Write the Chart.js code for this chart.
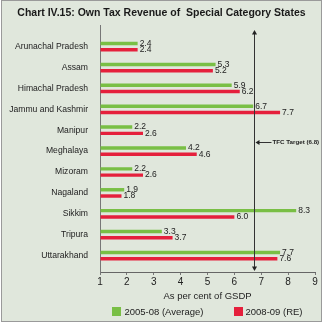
<!DOCTYPE html>
<html>
<head>
<meta charset="utf-8">
<script src="https://cdn.jsdelivr.net/npm/chart.js@4.4.1/dist/chart.umd.min.js"></script>
<style>
body { margin: 0; background: #fff; }
#wrap { position: relative; width: 325px; height: 325px; }
#legend { position: absolute; left: 100px; top: 305px; width: 215px; height: 12px; display: flex; justify-content: center; align-items: center; gap: 30px; font: 9.5px "Liberation Sans", Arial, sans-serif; color: #222; }
#legend .item { display: flex; align-items: center; }
#legend i { display: inline-block; width: 9px; height: 9px; margin-right: 3px; }
</style>
</head>
<body>
<div id="wrap">
<canvas id="taxChart" width="325" height="325"></canvas>
<div id="legend"></div>
</div>
<script>
// Own tax revenue, per cent of GSDP
var states = ["Arunachal Pradesh", "Assam", "Himachal Pradesh", "Jammu and Kashmir", "Manipur",
    "Meghalaya", "Mizoram", "Nagaland", "Sikkim", "Tripura", "Uttarakhand"];
var avg0508 = [2.4, 5.3, 5.9, 6.7, 2.2, 4.2, 2.2, 1.9, 8.3, 3.3, 7.7];
var re0809 = [2.4, 5.2, 6.2, 7.7, 2.6, 4.6, 2.6, 1.8, 6.0, 3.7, 7.6];
var xTicks = [1, 2, 3, 4, 5, 6, 7, 8, 9];
var tfcTarget = 6.72;   // where the line sits in the picture
var tfcText = "TFC Target (6.8)";

var FONT = "'Liberation Sans', Arial, sans-serif";
var green = '#79bf45';
var red = '#e5203c';

function toPoints(vals) {
    return vals.map(function (v, i) { return { x: v, y: i }; });
}

// frame + background
var framePlugin = {
    id: 'frame',
    beforeDraw: function (chart) {
        var ctx = chart.ctx;
        ctx.save();
        ctx.fillStyle = '#fff';
        ctx.fillRect(0, 0, chart.width, chart.height);
        ctx.fillStyle = '#e0e7dc';
        ctx.fillRect(1.5, 0.5, 320, 321);
        ctx.strokeStyle = '#9a9a9a';
        ctx.lineWidth = 1;
        ctx.strokeRect(1.5, 0.5, 320, 321);
        ctx.restore();
    }
};

// value labels + TFC target line
var extrasPlugin = {
    id: 'extras',
    afterDatasetsDraw: function (chart) {
        var ctx = chart.ctx;
        var xs = chart.scales.x, ys = chart.scales.y;
        var area = chart.chartArea;
        ctx.save();
        ctx.font = '8.5px ' + FONT;
        ctx.fillStyle = '#222';
        ctx.textBaseline = 'middle';
        chart.data.datasets.forEach(function (ds, d) {
            chart.getDatasetMeta(d).data.forEach(function (bar, i) {
                ctx.fillText(ds.data[i].x.toFixed(1), bar.x + 2, bar.y);
            });
        });

        var x = Math.round(xs.getPixelForValue(tfcTarget)) + 0.5;
        var top = area.top + 5, bottom = area.bottom - 1;
        ctx.strokeStyle = '#333';
        ctx.fillStyle = '#222';
        ctx.lineWidth = 1;
        ctx.beginPath();
        ctx.moveTo(x, top + 3);
        ctx.lineTo(x, bottom - 3);
        ctx.stroke();
        ctx.beginPath();
        ctx.moveTo(x, top); ctx.lineTo(x - 2.5, top + 4.5); ctx.lineTo(x + 2.5, top + 4.5);
        ctx.closePath(); ctx.fill();
        ctx.beginPath();
        ctx.moveTo(x, bottom); ctx.lineTo(x - 2.5, bottom - 4.5); ctx.lineTo(x + 2.5, bottom - 4.5);
        ctx.closePath(); ctx.fill();

        var ly = Math.round(ys.getPixelForValue(4.55)) + 0.5;
        ctx.beginPath();
        ctx.moveTo(x + 4, ly); ctx.lineTo(x + 17, ly);
        ctx.stroke();
        ctx.beginPath();
        ctx.moveTo(x + 1, ly); ctx.lineTo(x + 5, ly - 2.5); ctx.lineTo(x + 5, ly + 2.5);
        ctx.closePath(); ctx.fill();
        ctx.font = 'bold 6.2px ' + FONT;
        ctx.fillText(tfcText, x + 18, ly);
        ctx.restore();
    }
};

var ctx = document.getElementById('taxChart').getContext('2d');
var chart = new Chart(ctx, {
    type: 'bar',
    data: {
        datasets: [{
            label: "2005-08 (Average)",
            data: toPoints(avg0508),
            backgroundColor: green,
            base: 1
        }, {
            label: "2008-09 (RE)",
            data: toPoints(re0809),
            backgroundColor: red,
            base: 1
        }]
    },
    options: {
        indexAxis: 'y',
        responsive: false,
        animation: false,
        events: [],
        categoryPercentage: 0.6,
        barPercentage: 0.55,
        layout: { padding: { left: 8, right: 10, top: 0, bottom: 20.6 } },
        plugins: {
            legend: { display: false },
            tooltip: { enabled: false },
            title: {
                display: true,
                text: "Chart IV.15: Own Tax Revenue of  Special Category States",
                color: '#1a1a1a',
                font: { family: FONT, size: 10.5, weight: 'bold' },
                padding: { top: 7, bottom: 5.4 }
            }
        },
        scales: {
            x: {
                type: 'linear',
                min: 1,
                max: 9,
                afterBuildTicks: function (axis) {
                    axis.ticks = xTicks.map(function (v) { return { value: v }; });
                },
                grid: { display: true, drawOnChartArea: false, drawTicks: true, tickLength: 3, color: '#777' },
                border: { display: true, color: '#666', width: 1 },
                ticks: { color: '#222', padding: 1, font: { family: FONT, size: 10 } },
                title: {
                    display: true,
                    text: "As per cent of GSDP",
                    color: '#222',
                    font: { family: FONT, size: 9.5 },
                    padding: { top: 2, bottom: 2 }
                }
            },
            y: {
                type: 'linear',
                reverse: true,
                min: -0.5,
                max: 10.25,
                afterBuildTicks: function (axis) {
                    axis.ticks = states.map(function (s, i) { return { value: i }; });
                },
                afterFit: function (axis) { axis.width = 92; },
                grid: { display: false },
                border: { display: true, color: '#777', width: 1 },
                ticks: {
                    autoSkip: false,
                    color: '#222',
                    padding: 4,
                    font: { family: FONT, size: 8.6 },
                    callback: function (v) { return states[v]; }
                }
            }
        }
    },
    plugins: [framePlugin, extrasPlugin]
});

// html legend
var legendEl = document.getElementById('legend');
chart.data.datasets.forEach(function (ds) {
    var item = document.createElement('span');
    item.className = 'item';
    var sw = document.createElement('i');
    sw.style.background = ds.backgroundColor;
    item.appendChild(sw);
    item.appendChild(document.createTextNode(ds.label));
    legendEl.appendChild(item);
});
</script>
</body>
</html>
